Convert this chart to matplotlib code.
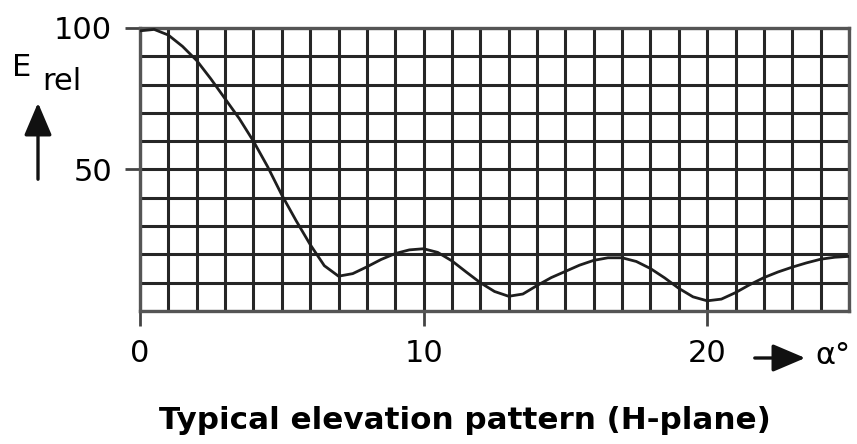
import matplotlib
matplotlib.use("Agg")
import matplotlib.pyplot as plt
import numpy as np

plt.rcParams['font.family'] = ['DejaVu Sans']

alpha = [0, 0.5, 1, 1.5, 2, 2.5, 3, 3.5, 4, 4.5, 5, 5.5, 6, 6.5, 7, 7.5, 8, 8.5, 9, 9.5,
         10, 10.5, 11, 11.5, 12, 12.5, 13, 13.5, 14, 14.5, 15, 15.5, 16, 16.5, 17, 17.5,
         18, 18.5, 19, 19.5, 20, 20.5, 21, 21.5, 22, 22.5, 23, 23.5, 24, 24.5, 25]
e_rel = [99, 99.5, 97.5, 93.5, 88.5, 82, 75, 68, 60, 51, 41, 32, 23.5, 16, 12.3, 13.2, 15.6, 18.2, 20.3, 21.6,
         22, 20.7, 17.7, 13.8, 10, 6.9, 5.2, 6, 9, 11.8, 14, 16.2, 17.9, 18.8, 18.8, 17.5,
         15, 11.7, 8, 5, 3.6, 4.2, 6.5, 9.3, 11.8, 13.8, 15.5, 17, 18.3, 19, 19.3]
x_ticks = [0, 10, 20]
y_ticks = [50, 100]

fig = plt.figure(figsize=(8.57, 4.44), dpi=100)
ax = fig.add_axes([140/857, 1-311/444, (849-140)/857, (311-28)/444])

gc = '#262626'
for gx in range(0, 26):
    ax.axvline(gx, color=gc, lw=2.2, zorder=1)
for gy in range(0, 101, 10):
    ax.axhline(gy, color=gc, lw=2.2, zorder=1)

ax.plot(alpha, e_rel, color='#1e1e1e', lw=2.0, zorder=3, solid_joinstyle='round')

ax.set_xlim(0, 25)
ax.set_ylim(0, 100)
for s in ax.spines.values():
    s.set_color('#555555')
    s.set_linewidth(2.4)
ax.set_xticks(x_ticks)
ax.set_yticks(y_ticks)
ax.set_xticklabels([str(v) for v in x_ticks], fontsize=22)
ax.set_yticklabels([str(v) for v in y_ticks], fontsize=22)
ax.tick_params(axis='both', length=11, width=2.0, color='#444444', pad=9)

# y label with arrow
fig.text(12/857, 1-67/444, 'E', fontsize=22, ha='left', va='center')
fig.text(42/857, 1-81/444, 'rel', fontsize=22, ha='left', va='center')
ax.annotate('', xy=(38/857, 1-100/444), xytext=(38/857, 1-182/444),
            xycoords='figure fraction', textcoords='figure fraction',
            arrowprops=dict(arrowstyle='-|>,head_width=0.85,head_length=2.0', color='#111111', lw=2.4))

# x label with arrow
ax.annotate('', xy=(808/857, 1-358/444), xytext=(752/857, 1-358/444),
            xycoords='figure fraction', textcoords='figure fraction',
            arrowprops=dict(arrowstyle='-|>,head_width=0.85,head_length=2.0', color='#111111', lw=2.4))
fig.text(815/857, 1-355/444, 'α°', fontsize=22, ha='left', va='center')

fig.text(465/857, 1-420/444, 'Typical elevation pattern (H-plane)', fontsize=22.3,
         fontweight='bold', ha='center', va='center')

fig.savefig('out.png', dpi=100)
